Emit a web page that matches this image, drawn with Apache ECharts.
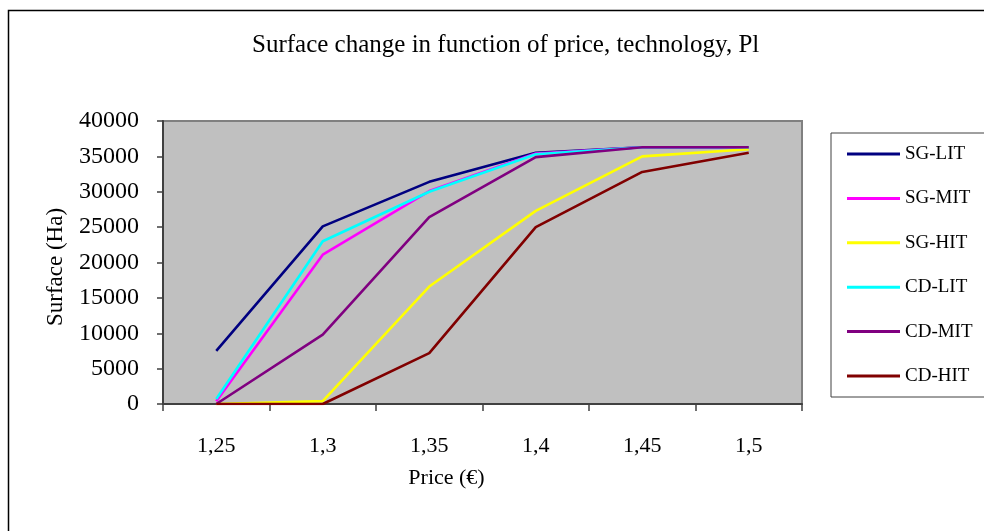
<!DOCTYPE html>
<html>
<head>
<meta charset="utf-8">
<script src="https://cdn.jsdelivr.net/npm/echarts@6/dist/echarts.min.js"></script>
<style>
html,body{margin:0;padding:0;background:#fff;}
#chart{width:984px;height:531px;}
</style>
</head>
<body>
<div id="chart"></div>
<script>
var categories = ['1,25', '1,3', '1,35', '1,4', '1,45', '1,5'];
var sgLit = [7500, 25100, 31400, 35500, 36300, 36300];
var sgMit = [400, 21100, 30100, 35400, 36300, 36300];
var sgHit = [0, 400, 16600, 27300, 35000, 36000];
var cdLit = [700, 23000, 30000, 35300, 36300, 36300];
var cdMit = [0, 9800, 26400, 34900, 36300, 36300];
var cdHit = [0, 0, 7200, 25000, 32800, 35500];
var seriesNames = ['SG-LIT', 'SG-MIT', 'SG-HIT', 'CD-LIT', 'CD-MIT', 'CD-HIT'];
var seriesColors = ['#000080', '#FF00FF', '#FFFF00', '#00FFFF', '#800080', '#800000'];
var seriesData = [sgLit, sgMit, sgHit, cdLit, cdMit, cdHit];

var FONT = '"Liberation Serif", "Times New Roman", serif';
var chart = echarts.init(document.getElementById('chart'), null, {renderer: 'canvas'});

var series = seriesNames.map(function (n, i) {
  return {
    name: n,
    type: 'line',
    data: seriesData[i],
    showSymbol: false,
    symbol: 'none',
    lineStyle: {color: seriesColors[i], width: 2.6},
    itemStyle: {color: seriesColors[i]},
    emphasis: {disabled: true}
  };
});

chart.setOption({
  animation: false,
  backgroundColor: '#ffffff',
  title: {
    text: 'Surface change in function of price, technology, Pl',
    left: 247,
    top: 28,
    textStyle: {fontFamily: FONT, fontSize: 25, fontWeight: 'normal', color: '#000'}
  },
  graphic: [{
    type: 'rect',
    shape: {x: 8.5, y: 10.5, width: 1100, height: 700},
    style: {fill: 'none', stroke: '#000', lineWidth: 1.5},
    silent: true,
    z: -1
  }],
  legend: {
    orient: 'vertical',
    left: 831,
    top: 133,
    padding: [10, 120, 10, 16],
    itemGap: 22.4,
    itemWidth: 53,
    itemHeight: 3,
    icon: 'rect',
    borderColor: '#404040',
    borderWidth: 1,
    textStyle: {fontFamily: FONT, fontSize: 19, color: '#000', lineHeight: 22},
    data: seriesNames
  },
  grid: {
    left: 163,
    top: 121,
    right: 182,
    bottom: 127,
    show: true,
    backgroundColor: '#C0C0C0',
    borderColor: '#808080',
    borderWidth: 2,
    outerBoundsMode: 'none',
    containLabel: false
  },
  xAxis: {
    type: 'category',
    data: categories,
    boundaryGap: true,
    name: 'Price (€)',
    nameLocation: 'middle',
    nameGap: 63,
    nameTextStyle: {fontFamily: FONT, fontSize: 22, color: '#000', padding: [0, 72, 0, 0]},
    axisLine: {show: true, lineStyle: {color: '#404040', width: 2}},
    axisTick: {show: true, interval: 0, length: 7, lineStyle: {color: '#404040', width: 1.5}},
    axisLabel: {interval: 0, margin: 31, fontFamily: FONT, fontSize: 22, color: '#000'},
    splitLine: {show: false}
  },
  yAxis: {
    type: 'value',
    min: 0,
    max: 40000,
    interval: 5000,
    name: 'Surface (Ha)',
    nameLocation: 'middle',
    nameRotate: 90,
    nameGap: 96,
    nameTextStyle: {fontFamily: FONT, fontSize: 23, color: '#000', padding: [0, 9, 0, 0]},
    axisLine: {show: true, lineStyle: {color: '#404040', width: 2}},
    axisTick: {show: true, length: 6, lineStyle: {color: '#404040', width: 1.5}},
    axisLabel: {
      margin: 24, fontFamily: FONT, fontSize: 24, color: '#000',
      formatter: function (v) { return String(v); }
    },
    splitLine: {show: false}
  },
  series: series
});
</script>
</body>
</html>
